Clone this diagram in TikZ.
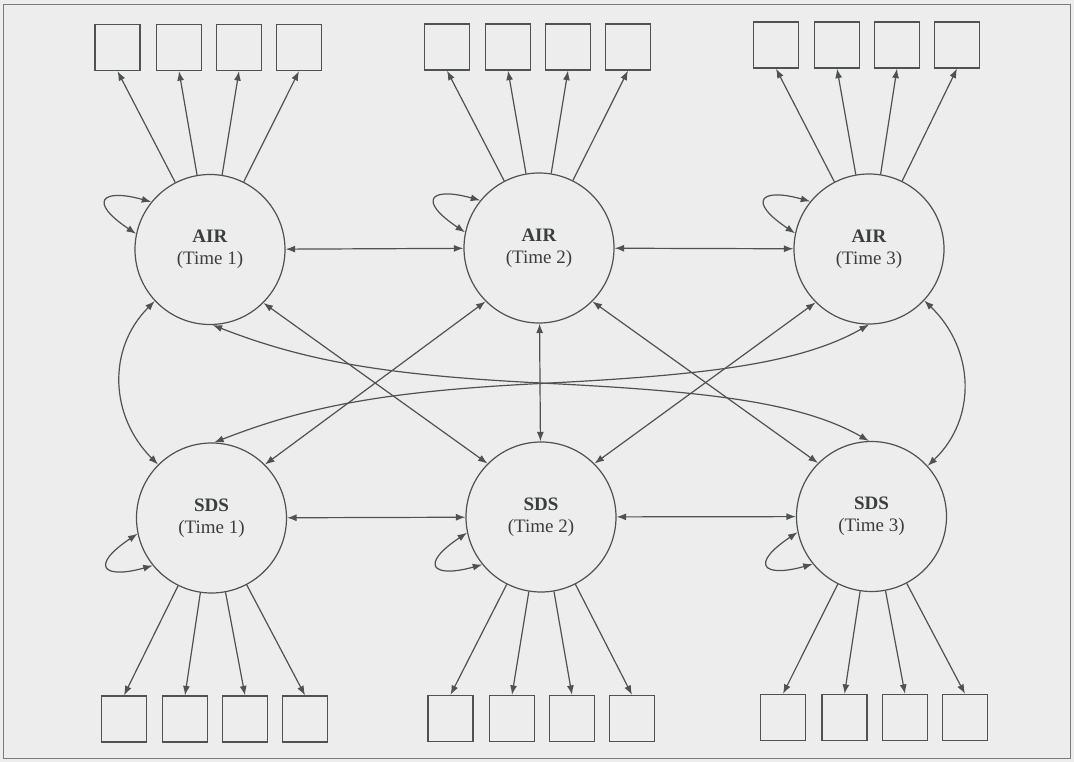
\documentclass[tikz,border=0pt]{standalone}
\usepackage{fontspec}
\setmainfont{Liberation Serif}
\usetikzlibrary{arrows.meta,calc}
\definecolor{bg}{RGB}{236,237,236}
\definecolor{ln}{RGB}{78,82,82}
\definecolor{txt}{RGB}{58,62,62}
\definecolor{frm}{RGB}{120,124,124}
\begin{document}
\begin{tikzpicture}[x=1pt,y=-1pt,
  latent/.style={circle, draw=ln, line width=1.2pt, fill=bg, minimum size=150pt, inner sep=0pt,
    align=center, font=\fontsize{19}{22}\selectfont, text=txt},
  ind/.style={rectangle, draw=ln, line width=1.2pt, fill=bg, minimum width=45pt, minimum height=46pt, inner sep=0pt},
  tipx/.tip={Latex[length=9.5pt,width=7pt]},
  conn/.style={draw=ln, line width=1.2pt, -tipx},
  cov/.style={draw=ln, line width=1.2pt, tipx-tipx},
]
\useasboundingbox (0,0) rectangle (1074,762);
\fill[bg] (0,0) rectangle (1074,762);
\draw[frm, line width=1pt] (3,5) rectangle (1070,758);

% latent variables
\node[latent] (a1) at (210,249.5) {\textbf{AIR}\\(Time 1)};
\node[latent] (a2) at (539,248) {\textbf{AIR}\\(Time 2)};
\node[latent] (a3) at (869,249) {\textbf{AIR}\\(Time 3)};
\node[latent] (s1) at (211.5,518) {\textbf{SDS}\\(Time 1)};
\node[latent] (s2) at (541,517) {\textbf{SDS}\\(Time 2)};
\node[latent] (s3) at (871.5,516.5) {\textbf{SDS}\\(Time 3)};

% indicators top
\node[ind] (a1i1) at (117.5,47.5) {};
\node[ind] (a1i2) at (179,47.5) {};
\node[ind] (a1i3) at (239,47.5) {};
\node[ind] (a1i4) at (299,47.5) {};
\node[ind] (a2i1) at (447,47) {};
\node[ind] (a2i2) at (508,47) {};
\node[ind] (a2i3) at (568,47) {};
\node[ind] (a2i4) at (628,47) {};
\node[ind] (a3i1) at (776,45) {};
\node[ind] (a3i2) at (837,45) {};
\node[ind] (a3i3) at (897,45) {};
\node[ind] (a3i4) at (957,45) {};
% indicators bottom
\node[ind] (s1i1) at (124,719) {};
\node[ind] (s1i2) at (185,719) {};
\node[ind] (s1i3) at (245,719) {};
\node[ind] (s1i4) at (305,719) {};
\node[ind] (s2i1) at (450.5,718.5) {};
\node[ind] (s2i2) at (512,718.5) {};
\node[ind] (s2i3) at (572,718.5) {};
\node[ind] (s2i4) at (632,718.5) {};
\node[ind] (s3i1) at (783,717.5) {};
\node[ind] (s3i2) at (844.5,717.5) {};
\node[ind] (s3i3) at (905,717.5) {};
\node[ind] (s3i4) at (965,717.5) {};

% loadings
\foreach \l in {a1,a2,a3}{
  \foreach \k in {1,2,3,4}{
    \draw[conn] (\l) -- (\l i\k.south);
  }
}
\foreach \l in {s1,s2,s3}{
  \foreach \k in {1,2,3,4}{
    \draw[conn] (\l) -- (\l i\k.north);
  }
}

% variances (self loops)
\foreach \l in {a1,a2,a3}{
  \draw[cov] (\l.141) .. controls +(-50,-14) and +(-48,-32) .. (\l.168);
}
\foreach \l in {s1,s2,s3}{
  \draw[cov] (\l.219) .. controls +(-50,14) and +(-48,32) .. (\l.192);
}

% horizontal and vertical covariances
\draw[cov] (a1) -- (a2);
\draw[cov] (a2) -- (a3);
\draw[cov] (s1) -- (s2);
\draw[cov] (s2) -- (s3);
\draw[cov] (a2) -- (s2);
\draw[cov] (a1.-137) .. controls +(-48,48) and +(-48,-48) .. (s1.135);
\draw[cov] (a3.-43) .. controls +(50,48) and +(50,-48) .. (s3.42);

% diagonals
\draw[cov] (a1.-45) -- (s2.135);
\draw[cov] (a2.-135) -- (s1.45);
\draw[cov] (a2.-45) -- (s3.135);
\draw[cov] (a3.-135) -- (s2.45);

% long curves
\coordinate (m1) at ($(a1)!0.5!(s3)$);
\coordinate (m2) at ($(s1)!0.5!(a3)$);
\draw[cov] (a1.-88) .. controls +(90,35) and +(-160,-8) .. (m1)
  .. controls +(160,8) and +(-70,-40) .. (s3.92);
\draw[cov] (s1.88) .. controls +(90,-35) and +(-160,8) .. (m2)
  .. controls +(160,-8) and +(-70,40) .. (a3.-90);
\end{tikzpicture}
\end{document}
